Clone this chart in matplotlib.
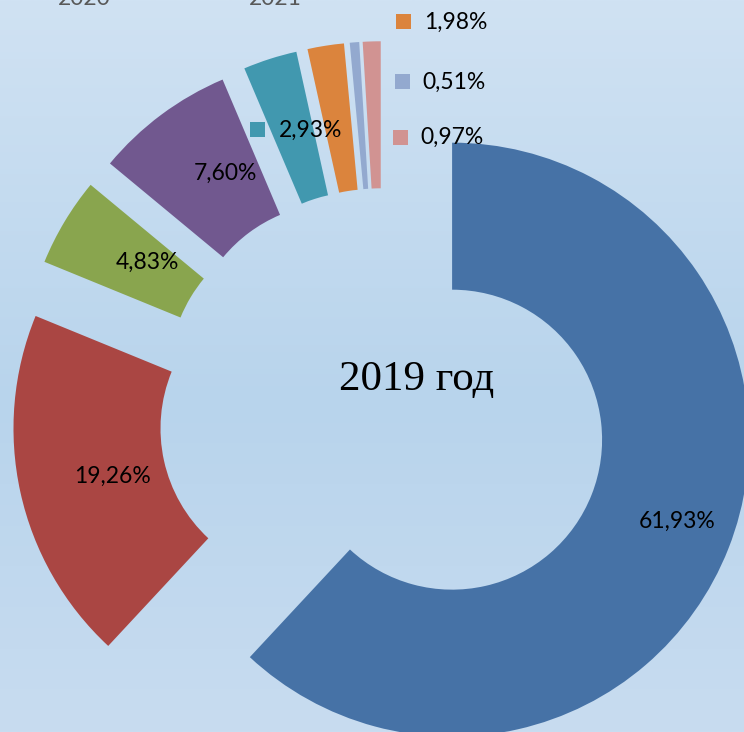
import numpy as np
import matplotlib
matplotlib.use("Agg")
import matplotlib.pyplot as plt
from matplotlib.colors import LinearSegmentedColormap

# ---- data ----
values = [61.93, 19.26, 4.83, 7.60, 2.93, 1.98, 0.51, 0.97]
labels = ["61,93%", "19,26%", "4,83%", "7,60%", "2,93%", "1,98%", "0,51%", "0,97%"]
colors = ["#4672a6", "#aa4643", "#89a54e", "#71588f", "#4198af", "#db843d", "#93a9cf", "#d19392"]
center_title = "2019 год"
top_titles = ["2020", "2021"]

W, H = 744, 732
DPI = 100
fig = plt.figure(figsize=(W / DPI, H / DPI), dpi=DPI)

# background gradient
bg = fig.add_axes([0, 0, 1, 1], zorder=0)
bg.set_axis_off()
cmap = LinearSegmentedColormap.from_list(
    "bg", [(0.0, "#c8dcf0"), (0.45, "#b8d4ec"), (1.0, "#d0e2f3")])
grad = np.linspace(0, 1, 256).reshape(-1, 1)
bg.imshow(grad, aspect="auto", cmap=cmap, extent=[0, 1, 0, 1], origin="lower")
bg.set_xlim(0, 1); bg.set_ylim(0, 1)

# pie axes: centre at pixel (383, 412.5), outer radius 297 px
cx, cy, R = 383.0, 412.5, 297.0
ax = fig.add_axes([0, 0, 1, 1], zorder=1)
ax.set_axis_off()
ax.patch.set_alpha(0)
ax.pie(values, colors=colors, startangle=90, counterclock=False, radius=1.0,
       explode=[0.25] * len(values),
       wedgeprops=dict(width=0.495, linewidth=0, antialiased=True))
ax.set_aspect("auto")
ax.set_xlim(-cx / R, (W - cx) / R)
ax.set_ylim(-(H - cy) / R, cy / R)

font = "Lato"
fs = 16.5

def px(x, y):
    return x / W, 1 - y / H

# labels inside the large wedges
inside = {0: (677, 521), 1: (112, 476), 2: (147, 262), 3: (225, 173)}
for i, (x, y) in inside.items():
    fig.text(*px(x, y), labels[i], ha="center", va="center", fontsize=fs,
             family=font, color="black", zorder=5)

# labels with legend keys for small wedges
keyed = {4: (258, 129, 279, 130), 5: (403.5, 21.5, 424, 22),
         6: (402, 81, 422, 82), 7: (400.5, 137, 420, 137)}
for i, (sx, sy, tx, ty) in keyed.items():
    fig.text(*px(tx, ty), labels[i], ha="left", va="center", fontsize=fs,
             family=font, color="black", zorder=5)
    fig.patches.append(plt.Rectangle(px(sx - 7.5, sy + 7.5), 15 / W, 15 / H,
                                     transform=fig.transFigure, facecolor=colors[i],
                                     edgecolor="none", zorder=5))

# centre title
fig.text(*px(417, 380), center_title, ha="center", va="center", fontsize=31,
         family="Liberation Serif", color="black", zorder=5)

# cut-off titles at top (partly outside the image, as in the reference)
for t, x in zip(top_titles, [84, 275]):
    fig.text(*px(x, 5), t, ha="center", va="baseline", fontsize=16.5,
             family=font, color="#595959", zorder=5)

fig.savefig("out.png", dpi=DPI)
